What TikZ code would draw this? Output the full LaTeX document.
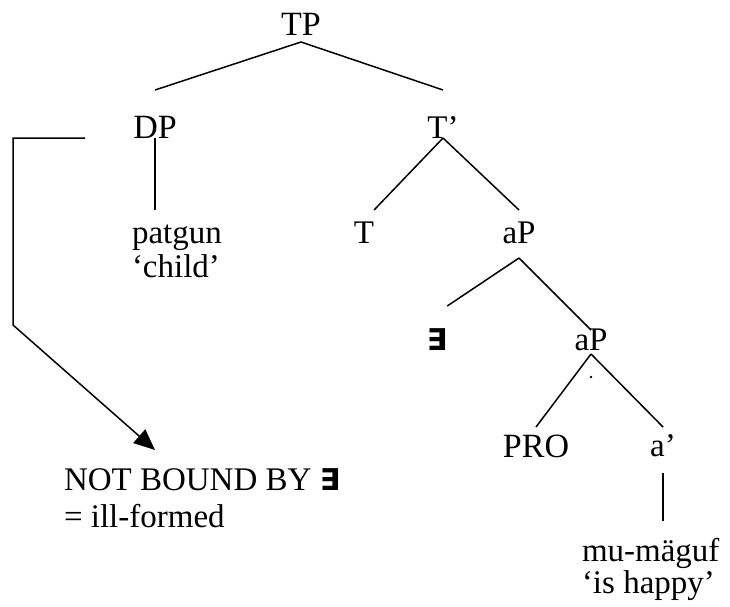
\documentclass[tikz,border=0pt]{standalone}
\usepackage{fontspec}
\setmainfont{Liberation Serif}
\newfontfamily\exfont{DejaVu Sans}
\usetikzlibrary{arrows.meta}

\newcommand{\exq}{{\exfont\bfseries\fontsize{30}{36}\selectfont ∃}}

\begin{document}
\begin{tikzpicture}[x=1pt,y=-1pt,
    cat/.style 2 args={anchor=base,text height=#1,text depth=#2},
    word/.style={anchor=base west},
    times/.style={font=\fontsize{34}{40}\selectfont}]
\useasboundingbox (0,0) rectangle (730,606);

\begin{scope}[every node/.style={inner sep=0pt,outer sep=0pt,font=\fontsize{33}{38}\selectfont}]
    \node[cat={23pt}{7pt},times]  (tp)    at (301,35)  {TP};
    \node[cat={48pt}{0pt},times]  (dp)    at (155,138) {DP};
    \node[cat={48pt}{0pt}]        (tbar)  at (443,138) {T’};
    \node[word,text height=33pt]  (pat)   at (132,243) {patgun};
    \node[word]                   (patgl) at (132,277) {‘child’};
    \node[cat={33pt}{0pt}]        (t)     at (364,243) {T};
    \node[cat={33pt}{15pt}]       (ap)    at (519,243) {aP};
    \node[cat={44pt}{0pt}]        (ex)    at (437,350) {\exq};
    \node[cat={20pt}{4pt}]        (apb)   at (591,350) {aP};
    \node[cat={30pt}{0pt},times]  (pro)   at (536,457) {PRO};
    \node[cat={29pt}{17pt}]       (abar)  at (663,456) {a’};
    \node[word,text height=40pt]  (mu)    at (582,561) {mu-mäguf};
    \node[word]                   (mugl)  at (582,593) {‘is happy’};
    \node[word,text height=40pt]  (nb)    at (64,490)  {NOT BOUND BY \exq};
    \node[word]                   (nbgl)  at (64,527)  {= ill-formed};
\end{scope}

\begin{scope}[line width=1.5pt]
    \path (tp.south)   edge (dp.north);
    \path (tp.south)   edge (tbar.north);
    \path (dp.south)   edge (dp.south |- pat.north);
    \path (tbar.south) edge (t.north east);
    \path (tbar.south) edge (ap.north);
    \path (ap.south)   edge (ex.north east);
    \path (ap.south)   edge (apb.north);
    \path (apb.south)  edge (pro.north);
    \path (apb.south)  edge (abar.north);
    \path (abar.south) edge (abar.south |- mu.north);
    \fill ([yshift=-23pt]apb.south) circle (1.4pt);
    % binding arrow
    \coordinate (bind) at (85,138);
    \draw[-{Triangle[length=21pt,width=18pt]}] (bind) -- ++(-72,0) -- ++(0,187) -- (dp |- nb.north);
\end{scope}
\end{tikzpicture}
\end{document}
